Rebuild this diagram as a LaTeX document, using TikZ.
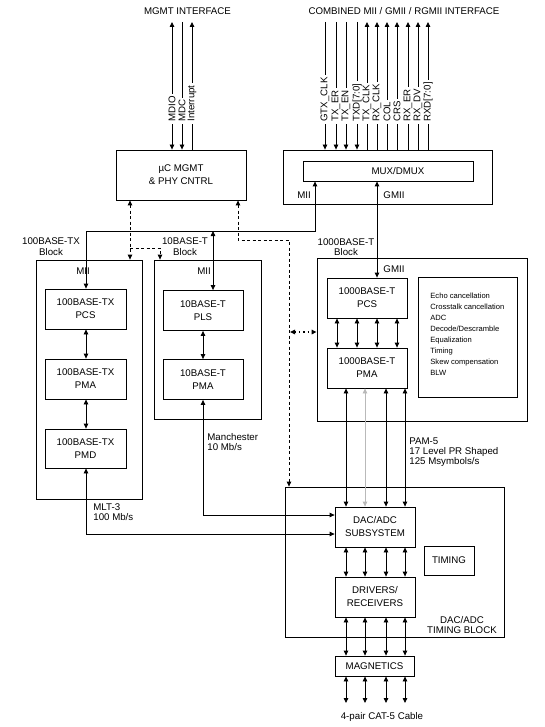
\documentclass[tikz,border=0pt]{standalone}
\usepackage{fontspec}
\setmainfont{Liberation Sans}
\usetikzlibrary{arrows.meta}
\begin{document}
\begin{tikzpicture}[x=1pt,y=-1pt,line width=0.8pt,
  >={Triangle[length=5pt,width=4.5pt]},
  box/.style={draw,align=center,inner sep=0pt,font=\fontsize{9.7}{13}\selectfont},
  lbl/.style={align=center,inner sep=0pt,font=\fontsize{9.7}{10.5}\selectfont},
  lbll/.style={align=left,anchor=west,inner sep=0pt,font=\fontsize{9.7}{10}\selectfont},
  sig/.style={rotate=90,anchor=west,fill=white,inner xsep=2pt,inner ysep=0.3pt,font=\fontsize{9.7}{11}\selectfont},
  dsh/.style={dash pattern=on 3pt off 2.5pt},
  dts/.style={dash pattern=on 1.3pt off 3pt,line width=1.3pt}
]
\useasboundingbox (0,0) rectangle (545,727);

% titles
\node[lbl] (tmgmt) at (187.5,11) {MGMT INTERFACE};
\node[lbl] (tcomb) at (404,11) {COMBINED MII / GMII / RGMII INTERFACE};

% boxes
\node[box,minimum width=130pt,minimum height=50pt] (mgmt) at (181,175) {µC MGMT\\\& PHY CNTRL};
\node[box,minimum width=209pt,minimum height=54pt] (muxo) at (387.5,177) {};
\node[box,minimum width=170pt,minimum height=20pt] (mux) at (388,171) {\hspace*{20pt}MUX/DMUX};

\node[box,minimum width=106pt,minimum height=239pt] (txblk) at (89,379.5) {};
\node[box,minimum width=81pt,minimum height=40pt] (txpcs) at (85.5,309) {100BASE-TX\\PCS};
\node[box,minimum width=81pt,minimum height=40pt] (txpma) at (85.5,379) {100BASE-TX\\PMA};
\node[box,minimum width=81pt,minimum height=39pt] (txpmd) at (85.5,448.5) {100BASE-TX\\PMD};

\node[box,minimum width=107pt,minimum height=159pt] (tblk) at (207.5,339.5) {};
\node[box,minimum width=80pt,minimum height=40pt] (pls) at (203,310.5) {10BASE-T\\PLS};
\node[box,minimum width=80pt,minimum height=40pt] (tpma) at (203,379.5) {10BASE-T\\PMA};

\node[box,minimum width=210pt,minimum height=163pt] (gblk) at (422,339.5) {};
\node[box,minimum width=80pt,minimum height=40pt] (gpcs) at (367,298) {1000BASE-T\\PCS};
\node[box,minimum width=80pt,minimum height=40pt] (gpma) at (367,368) {1000BASE-T\\PMA};
\node[box,minimum width=99pt,minimum height=120pt] (feat) at (467.5,337) {};
\node[align=left,anchor=west,inner sep=0pt,font=\fontsize{7.6}{11}\selectfont] (feattxt) at (430,334)
  {Echo cancellation\\Crosstalk cancellation\\ADC\\Decode/Descramble\\Equalization\\Timing\\Skew compensation\\BLW};

\node[box,minimum width=219pt,minimum height=150pt] (dblk) at (394.5,562) {};
\node[box,minimum width=80pt,minimum height=40pt] (dac) at (375,527) {DAC/ADC\\SUBSYSTEM};
\node[box,minimum width=50pt,minimum height=29pt] (timing) at (449,560.5) {TIMING};
\node[box,minimum width=80pt,minimum height=40pt] (drv) at (375,597) {DRIVERS/\\RECEIVERS};
\node[box,minimum width=79pt,minimum height=20pt] (mag) at (374.5,666) {MAGNETICS};

% labels
\node[lbl] (ltx) at (51,246.5) {100BASE-TX\\Block};
\node[lbl] (lt) at (185,246.5) {10BASE-T\\Block};
\node[lbl] (lg) at (346,247) {1000BASE-T\\Block};
\node[lbl] (ltxmii) at (83,271) {MII};
\node[lbl] (ltmii) at (204,271) {MII};
\node[lbl] (lgmii) at (394,269) {GMII};
\node[lbl] (lmuxmii) at (304,195) {MII};
\node[lbl] (lmuxgmii) at (394,195) {GMII};
\node[lbll] (lman) at (207,442) {Manchester\\10 Mb/s};
\node[lbll] (lmlt) at (93,512) {MLT-3\\100 Mb/s};
\node[lbll] (lpam) at (409,452) {PAM-5\\17 Level PR Shaped\\125 Msymbols/s};
\node[lbl] (ldblk) at (462,625) {DAC/ADC\\TIMING BLOCK};
\node[lbl] (lcab) at (382,717) {4-pair CAT-5 Cable};

% management interface
\coordinate (mdioT) at (172,22);
\coordinate (mdcT) at (182,22);
\coordinate (intT) at (192,22);
\draw[<->] (mdioT) -- (mdioT |- mgmt.north);
\draw[->] (mdcT) -- (mdcT |- mgmt.north);
\draw[<-] (intT) -- (intT |- mgmt.north);

% combined interface
\foreach \x/\nm in {325/gtx,336/txer,346/txen,357/txd} {
  \coordinate (\nm T) at (\x,22);
  \draw[->] (\nm T) -- (\nm T |- muxo.north);
}
\foreach \x/\nm in {367/txclk,377/rxclk,387/col,397/crs,408/rxer,418/rxdv,428/rxd} {
  \coordinate (\nm T) at (\x,22);
  \draw[<-] (\nm T) -- (\nm T |- muxo.north);
}
\node[sig] (smdio) at (172,124) {MDIO};
\node[sig] (smdc) at (182,124) {MDC};
\node[sig] (sint) at (192,124) {Interrupt};
\node[sig] (sgtx) at (325,124) {GTX\_CLK};
\node[sig] (stxer) at (336,124) {TX\_ER};
\node[sig] (stxen) at (346,124) {TX\_EN};
\node[sig] (stxd) at (357,124) {TXD[7:0]};
\node[sig] (stxclk) at (367,124) {TX\_CLK};
\node[sig] (srxclk) at (377,124) {RX\_CLK};
\node[sig] (scol) at (387,124) {COL};
\node[sig] (scrs) at (397,124) {CRS};
\node[sig] (srxer) at (408,124) {RX\_ER};
\node[sig] (srxdv) at (418,124) {RX\_DV};
\node[sig] (srxd) at (428,124) {RXD[7:0]};

% MII bus
\coordinate (mA) at (86,231);
\coordinate (mB) at (315,231);
\coordinate (mC) at (213,231);
\draw[<->] (mux.south -| mB) -- (mB) -- (mA) -- (txpcs.north -| mA);
\draw[<->] (mC) -- (pls.north -| mC);
\coordinate (gX) at (377,200);
\draw[<->] (mux.south -| gX) -- (gpcs.north -| gX);

% dashed control
\coordinate (dA) at (130,248);
\coordinate (dB) at (160,248);
\draw[dsh,<->] (dA |- mgmt.south) -- (dA |- txblk.north);
\draw[dsh,->] (dA) -- (dB) -- (dB |- tblk.north);
\coordinate (dC) at (238,240);
\coordinate (dD) at (289,240);
\draw[dsh,<->] (dC |- mgmt.south) -- (dC) -- (dD) -- (dD |- dblk.north);
\coordinate (dE) at (290,332);
\draw[dts,<->] (dE) -- (dE -| gblk.west);

% 100BASE-TX chain
\draw[<->] (txpcs.south) ++(0.5,0) coordinate (tx1) (tx1) -- (tx1 |- txpma.north);
\draw[<->] (tx1 |- txpma.south) -- (tx1 |- txpmd.north);
\coordinate (mltC) at (86,534);
\draw[<->] (txpmd.south -| mltC) -- (mltC) -- (mltC -| dac.west);

% 10BASE-T chain
\coordinate (tT) at (203,515);
\draw[<->] (pls.south -| tT) -- (tpma.north -| tT);
\draw[<->] (tpma.south -| tT) -- (tT) -- (tT -| dac.west);

% 1000BASE-T lanes
\foreach \x [count=\i] in {337,357,377,397} {
  \coordinate (ga\i) at (\x,300);
  \draw[<->] (gpcs.south -| ga\i) -- (gpma.north -| ga\i);
}
\foreach \x [count=\i] in {346,365,386,405} {
  \coordinate (gb\i) at (\x,700);
  \coordinate (gc\i) at (\x,703);
  \draw[<->] (dac.south -| gb\i) -- (drv.north -| gb\i);
  \draw[<->] (drv.south -| gb\i) -- (mag.north -| gb\i);
  \draw[<->] (mag.south -| gb\i) -- (gc\i);
}
\foreach \i in {1,3,4} \draw[<->] (gpma.south -| gb\i) -- (dac.north -| gb\i);
\draw[<->,gray!55] (gpma.south -| gb2) -- (dac.north -| gb2);
\end{tikzpicture}
\end{document}
